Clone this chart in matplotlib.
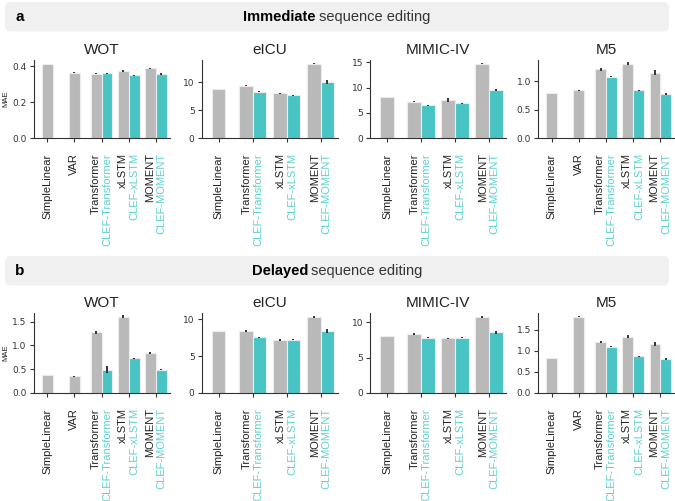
import matplotlib
matplotlib.use("Agg")
import matplotlib.pyplot as plt
from matplotlib.patches import FancyBboxPatch

plt.rcParams['font.family'] = ['Liberation Sans', 'DejaVu Sans']

GRAY = '#b9b9b9'
TEAL = '#48c4c4'
TEAL_TXT = '#5fd0d0'
INK = '#222222'

datasets = ["WOT", "eICU", "MIMIC-IV", "M5"]
models_all = ["SimpleLinear", "VAR", "Transformer", "xLSTM", "MOMENT"]
models_novar = ["SimpleLinear", "Transformer", "xLSTM", "MOMENT"]

# ---- a: immediate sequence editing (MAE) ----
imm_wot = [0.413, 0.364, 0.358, 0.373, 0.387]
imm_wot_err = [0, 0.003, 0.004, 0.006, 0.004]
imm_wot_clef = [None, None, 0.360, 0.349, 0.356]
imm_wot_clef_err = [0, 0, 0.003, 0.003, 0.003]

imm_eicu = [8.8, 9.4, 8.0, 13.35]
imm_eicu_err = [0, 0.12, 0.15, 0.12]
imm_eicu_clef = [None, 8.3, 7.7, 10.1]
imm_eicu_clef_err = [0, 0.1, 0.1, 0.35]

imm_mimic = [8.05, 7.2, 7.5, 14.75]
imm_mimic_err = [0, 0.1, 0.45, 0.1]
imm_mimic_clef = [None, 6.5, 6.9, 9.5]
imm_mimic_clef_err = [0, 0.12, 0.1, 0.25]

imm_m5 = [0.79, 0.835, 1.205, 1.305, 1.15]
imm_m5_err = [0, 0.01, 0.025, 0.03, 0.05]
imm_m5_clef = [None, None, 1.08, 0.84, 0.77]
imm_m5_clef_err = [0, 0, 0.01, 0.012, 0.012]

# ---- b: delayed sequence editing (MAE) ----
del_wot = [0.373, 0.35, 1.275, 1.6, 0.838]
del_wot_err = [0, 0.01, 0.03, 0.03, 0.02]
del_wot_clef = [None, None, 0.49, 0.725, 0.49]
del_wot_clef_err = [0, 0, 0.08, 0.015, 0.01]

del_eicu = [8.45, 8.4, 7.15, 10.35]
del_eicu_err = [0, 0.1, 0.12, 0.12]
del_eicu_clef = [None, 7.55, 7.25, 8.45]
del_eicu_clef_err = [0, 0.1, 0.1, 0.3]

del_mimic = [8.07, 8.35, 7.7, 10.75]
del_mimic_err = [0, 0.15, 0.1, 0.1]
del_mimic_clef = [None, 7.83, 7.78, 8.54]
del_mimic_clef_err = [0, 0.12, 0.08, 0.25]

del_m5 = [0.83, 1.81, 1.215, 1.34, 1.17]
del_m5_err = [0, 0.01, 0.03, 0.035, 0.05]
del_m5_clef = [None, None, 1.10, 0.87, 0.81]
del_m5_clef_err = [0, 0, 0.015, 0.012, 0.015]

yticks_imm = [[0.0, 0.2, 0.4], [0, 5, 10], [0, 5, 10, 15], [0.0, 0.5, 1.0]]
yticks_del = [[0.0, 0.5, 1.0, 1.5], [0, 5, 10], [0, 5, 10], [0.0, 0.5, 1.0, 1.5]]


def draw_panel(ax, title, models, base, base_err, clef, clef_err, yticks, ylabel=False):
    w = 0.4
    for i, name in enumerate(models):
        if clef[i] is None:
            xs = [(i, base[i], base_err[i], GRAY)]
        else:
            xs = [(i - w / 2, base[i], base_err[i], GRAY),
                  (i + w / 2, clef[i], clef_err[i], TEAL)]
        for x, v, e, c in xs:
            ax.bar(x, v, width=w, color=c, edgecolor='#ececec', linewidth=0.8, zorder=2)
            if e > 0:
                ax.vlines(x, v - e, v + e, color='#333333', linewidth=1.4, zorder=3)

        # rotated category labels, the CLEF variant on a second line in teal
        if clef[i] is None:
            ax.annotate(name, xy=(i, 0), xycoords=('data', 'axes fraction'),
                        xytext=(0, -11), textcoords='offset points', rotation=90,
                        ha='center', va='top', fontsize=8, color=INK)
        else:
            ax.annotate(name, xy=(i, 0), xycoords=('data', 'axes fraction'),
                        xytext=(-4.2, -11), textcoords='offset points', rotation=90,
                        ha='center', va='top', fontsize=8, color=INK)
            ax.annotate('CLEF-' + name, xy=(i, 0), xycoords=('data', 'axes fraction'),
                        xytext=(4.2, -11), textcoords='offset points', rotation=90,
                        ha='center', va='top', fontsize=8, color=TEAL_TXT)

    ax.set_xlim(-0.5, len(models) - 0.5)
    ax.set_xticks(range(len(models)))
    ax.set_xticklabels([])
    ax.set_yticks(yticks)
    ax.set_yticklabels([f'{t:.1f}' if isinstance(t, float) else str(t) for t in yticks],
                       family='DejaVu Sans')
    top = max(max(base), max(v for v in clef if v is not None))
    ax.set_ylim(0, top * 1.05)
    for s in ['top', 'right']:
        ax.spines[s].set_visible(False)
    for s in ['left', 'bottom']:
        ax.spines[s].set_color('#333333')
        ax.spines[s].set_linewidth(0.8)
    ax.tick_params(length=3, width=0.8, color='#333333', labelsize=6.5,
                   labelcolor='#333333', pad=2)
    ax.set_title(title, fontsize=11, color=INK, pad=4)
    if ylabel:
        ax.set_ylabel('MAE', fontsize=5.5, color=INK)
        ax.yaxis.set_label_coords(-0.18, 0.5)


W, H = 675, 501
fig = plt.figure(figsize=(W / 100, H / 100), dpi=100)

lefts = [33.5, 201.5, 370, 538]
width = 136
rows = [(60, 138), (313, 393)]

imm = [
    (imm_wot, imm_wot_err, imm_wot_clef, imm_wot_clef_err, models_all),
    (imm_eicu, imm_eicu_err, imm_eicu_clef, imm_eicu_clef_err, models_novar),
    (imm_mimic, imm_mimic_err, imm_mimic_clef, imm_mimic_clef_err, models_novar),
    (imm_m5, imm_m5_err, imm_m5_clef, imm_m5_clef_err, models_all),
]
dly = [
    (del_wot, del_wot_err, del_wot_clef, del_wot_clef_err, models_all),
    (del_eicu, del_eicu_err, del_eicu_clef, del_eicu_clef_err, models_novar),
    (del_mimic, del_mimic_err, del_mimic_clef, del_mimic_clef_err, models_novar),
    (del_m5, del_m5_err, del_m5_clef, del_m5_clef_err, models_all),
]

for (top_px, bot_px), panels, yts in [(rows[0], imm, yticks_imm), (rows[1], dly, yticks_del)]:
    for j, (b, be, c, ce, models) in enumerate(panels):
        ax = fig.add_axes([lefts[j] / W, 1 - bot_px / H, width / W, (bot_px - top_px) / H])
        draw_panel(ax, datasets[j], models, b, be, c, ce, yts[j], ylabel=(j == 0))

# section header bars
for y_top, letter, bold, rest, split in [(2, 'a', 'Immediate', 'sequence editing', 316),
                                         (256, 'b', 'Delayed', 'sequence editing', 308)]:
    box = FancyBboxPatch((0.05, (H - y_top - 29.5) / 100), 6.64, 0.295,
                         boxstyle='round,pad=0,rounding_size=0.06',
                         transform=fig.dpi_scale_trans, facecolor='#f0f0f0',
                         edgecolor='none', zorder=0)
    fig.add_artist(box)
    yc = 1 - (y_top + 15) / H
    fig.text(15 / W, yc, letter, fontsize=11, fontweight='bold', color='black',
             ha='left', va='center')
    fig.text(split / W, yc, bold, fontsize=10.5, fontweight='bold', color='black',
             ha='right', va='center')
    fig.text((split + 3) / W, yc, rest, fontsize=10.5, color='#333333',
             ha='left', va='center')

fig.savefig('out.png', dpi=100)
